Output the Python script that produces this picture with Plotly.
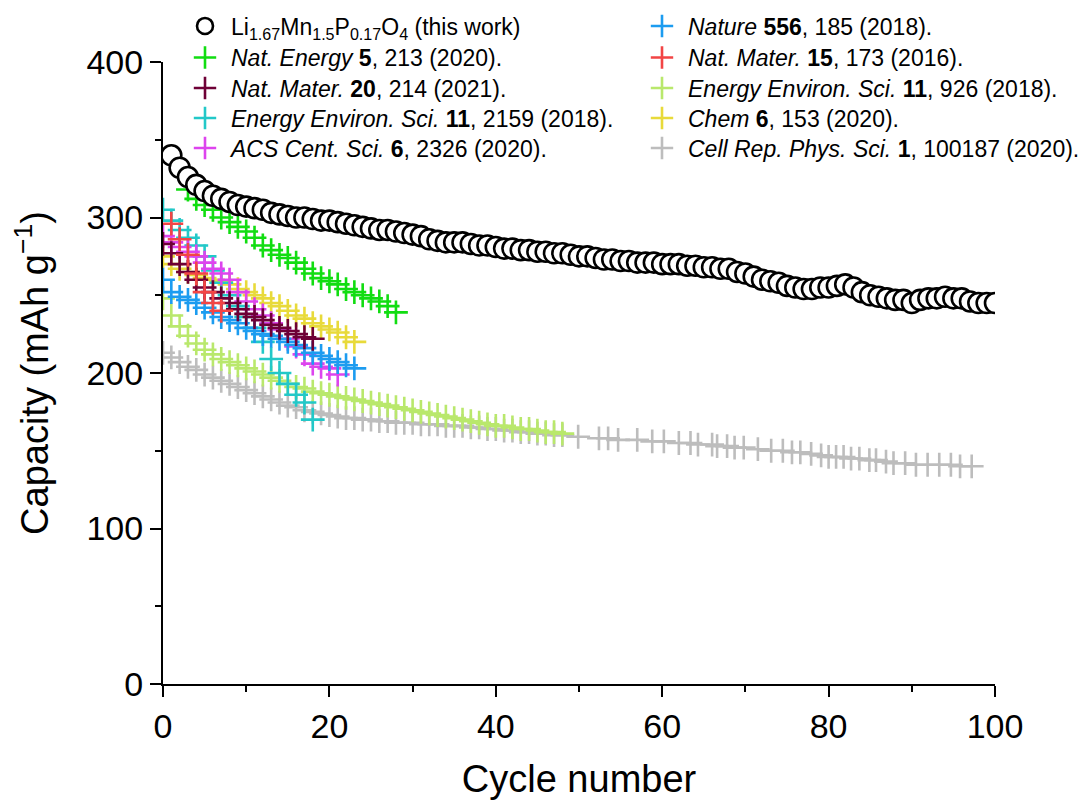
import plotly.graph_objects as go

# Capacity (mAh/g) versus cycle number
this_work_cycles = list(range(1, 101))
this_work_cap = [
    340, 332, 326, 321, 317, 314, 312, 310, 308, 307,
    306, 305, 303, 302, 301, 300, 300, 299, 298, 298,
    297, 296, 295, 294, 293, 292, 292, 291, 290, 289,
    288, 286, 285, 284, 284, 284, 283, 282, 282, 281,
    280, 280, 279, 279, 278, 278, 277, 277, 276, 275,
    275, 274, 273, 273, 272, 272, 271, 271, 271, 270,
    270, 270, 269, 269, 268, 268, 267, 267, 265, 264,
    262, 260, 259, 258, 256, 255, 254, 254, 255, 255,
    256, 257, 255, 252, 250, 249, 248, 247, 247, 245,
    247, 248, 248, 249, 248, 248, 246, 245, 245, 245,
]

nat_energy_cycles = list(range(3, 29))
nat_energy_cap = [318, 312, 308, 305, 300, 297, 294, 291, 287, 282, 279, 276, 274,
                  271, 267, 264, 261, 259, 257, 254, 252, 250, 248, 246, 243, 239]

nat_mater20_cycles = list(range(0, 19))
nat_mater20_cap = [283, 277, 270, 265, 260, 255, 252, 248, 245, 241,
                   238, 236, 234, 231, 229, 227, 225, 223, 222]

ees2159_cycles = list(range(0, 19))
ees2159_cap = [305, 298, 292, 287, 282, 275, 266, 258, 250, 243,
               236, 229, 220, 209, 200, 193, 186, 181, 170]

acs_cycles = list(range(0, 22))
acs_cap = [288, 284, 281, 278, 275, 271, 267, 264, 260, 252, 246,
           241, 237, 232, 228, 222, 217, 212, 206, 204, 203, 199]

nature_cycles = list(range(0, 24))
nature_cap = [260, 252, 249, 247, 245, 242, 239, 236, 234, 232, 229, 227,
              225, 224, 222, 220, 218, 216, 213, 211, 209, 207, 205, 203]

nat_mater15_cycles = list(range(1, 8))
nat_mater15_cap = [296, 286, 276, 264, 252, 245, 240]

ees926_cycles = list(range(0, 49))
ees926_cap = [248, 237, 230, 224, 219, 215, 212, 209, 207, 205,
              203, 201, 199, 197, 195, 193, 191, 190, 188, 187,
              186, 185, 184, 183, 182, 181, 180, 179, 178, 177,
              176, 175, 174, 173, 172, 171, 170, 169, 168, 167,
              166, 166, 165, 164, 164, 163, 162, 162, 161]

chem_cycles = list(range(0, 24))
chem_cap = [275, 270, 267, 265, 263, 261, 260, 259, 257, 254, 252, 250,
            248, 245, 243, 240, 237, 235, 232, 230, 228, 226, 223, 220]

cell_rep_cycles = list(range(0, 49)) + [
    49.9, 52.4, 53.5, 54.7, 57.0, 58.8, 60.2, 62.0, 63.4, 64.3,
    66.0, 66.6, 67.8, 68.7, 69.8, 71.5, 73.1, 74.5, 75.6, 76.6,
    77.9, 79.1, 80.0, 80.9, 81.8, 82.7, 83.7, 84.9, 85.7, 86.9,
    87.8, 89.2, 90.5, 91.9, 93.3, 94.7, 95.8, 97.2]
cell_rep_cap = [213, 210, 207, 204, 202, 199, 197, 195, 193, 191,
                189, 187, 185, 183, 181, 179, 178, 176, 175, 174,
                173, 172, 171, 171, 170, 170, 169, 169, 168, 168,
                168, 167, 167, 167, 166, 166, 166, 165, 165, 164,
                164, 163, 163, 162, 162, 161, 161, 160, 160] + [
    159, 158, 158, 157, 157, 156, 156, 155, 155, 154,
    154, 153, 153, 152, 152, 151, 150, 150, 149, 149,
    148, 147, 146, 146, 146, 145, 145, 144, 144, 143,
    142, 142, 141, 141, 141, 141, 140, 140]

# Legend slots: (column, row) -> each entry gets its own small legend box
# (name, x, y, colour, column, row) in drawing order (bottom first)
series = [
    ("<i>Cell Rep. Phys. Sci.</i> <b>1</b>, 100187 (2020).", cell_rep_cycles, cell_rep_cap, "#bdbdbd", 1, 4),
    ("<i>Energy Environ. Sci.</i> <b>11</b>, 926 (2018).", ees926_cycles, ees926_cap, "#b9e86c", 1, 2),
    ("<i>Chem</i> <b>6</b>, 153 (2020).", chem_cycles, chem_cap, "#e8da3a", 1, 3),
    ("<i>Energy Environ. Sci.</i> <b>11</b>, 2159 (2018).", ees2159_cycles, ees2159_cap, "#22c8c8", 0, 3),
    ("<i>ACS Cent. Sci.</i> <b>6</b>, 2326 (2020).", acs_cycles, acs_cap, "#dd44ee", 0, 4),
    ("<i>Nature</i> <b>556</b>, 185 (2018).", nature_cycles, nature_cap, "#1c9cf0", 1, 0),
    ("<i>Nat. Mater.</i> <b>20</b>, 214 (2021).", nat_mater20_cycles, nat_mater20_cap, "#6e0036", 0, 2),
    ("<i>Nat. Mater.</i> <b>15</b>, 173 (2016).", nat_mater15_cycles, nat_mater15_cap, "#f24545", 1, 1),
    ("<i>Nat. Energy</i> <b>5</b>, 213 (2020).", nat_energy_cycles, nat_energy_cap, "#11dd11", 0, 1),
]

font = "Liberation Sans, Arial, sans-serif"
legend_font = dict(family=font, size=23, color="black")

# plot area in pixels (paper coordinates derived from these)
L, R, T, B = 163, 95, 62, 118
W, H = 1090, 802
PW, PH = W - L - R, H - T - B

col_left_px = [179, 636]
row_center_px = [26, 57.5, 88, 118, 148]

legend_layouts = {}


def legend_slot(col, row):
    key = "legend" if (col, row) == (0, 0) else f"legend{2 + col * 5 + row}"
    legend_layouts[key] = dict(
        x=(col_left_px[col] - L) / PW,
        y=(H - B - row_center_px[row]) / PH,
        xanchor="left", yanchor="middle",
        font=legend_font, bgcolor="rgba(0,0,0,0)", itemwidth=42,
    )
    return key


fig = go.Figure()
for name, xs, ys, color, col, row in series:
    fig.add_trace(go.Scatter(
        x=xs, y=ys, mode="markers", name=name, legend=legend_slot(col, row),
        marker=dict(symbol="cross-thin-open", size=17, color=color,
                    line=dict(color=color, width=2.6)),
    ))

fig.add_trace(go.Scatter(
    x=this_work_cycles, y=this_work_cap, mode="markers",
    name="Li<sub>1.67</sub>Mn<sub>1.5</sub>P<sub>0.17</sub>O<sub>4</sub> (this work)",
    legend=legend_slot(0, 0),
    marker=dict(symbol="circle", size=20, color="white",
                line=dict(color="black", width=2.6)),
))

axis_common = dict(
    showline=True, linecolor="black", linewidth=2,
    ticks="outside", ticklen=11, tickwidth=2, tickcolor="black",
    showgrid=False, zeroline=False,
    tickfont=dict(family=font, size=34, color="black"),
    minor=dict(ticks="outside", ticklen=6, tickwidth=2, tickcolor="black"),
)

fig.update_layout(
    width=W, height=H,
    margin=dict(l=L, r=R, t=T, b=B, autoexpand=False),
    paper_bgcolor="white", plot_bgcolor="white",
    showlegend=True,
    xaxis=dict(range=[0, 100], dtick=20, minor_dtick=10,
               title=dict(text="Cycle number", font=dict(family=font, size=38, color="black"), standoff=22),
               **axis_common),
    yaxis=dict(range=[0, 400], dtick=100, minor_dtick=50,
               title=dict(text="Capacity (mAh g<sup>\u22121</sup>)", font=dict(family=font, size=38, color="black"), standoff=26),
               **axis_common),
    **legend_layouts,
)

fig.write_html("out.html")
